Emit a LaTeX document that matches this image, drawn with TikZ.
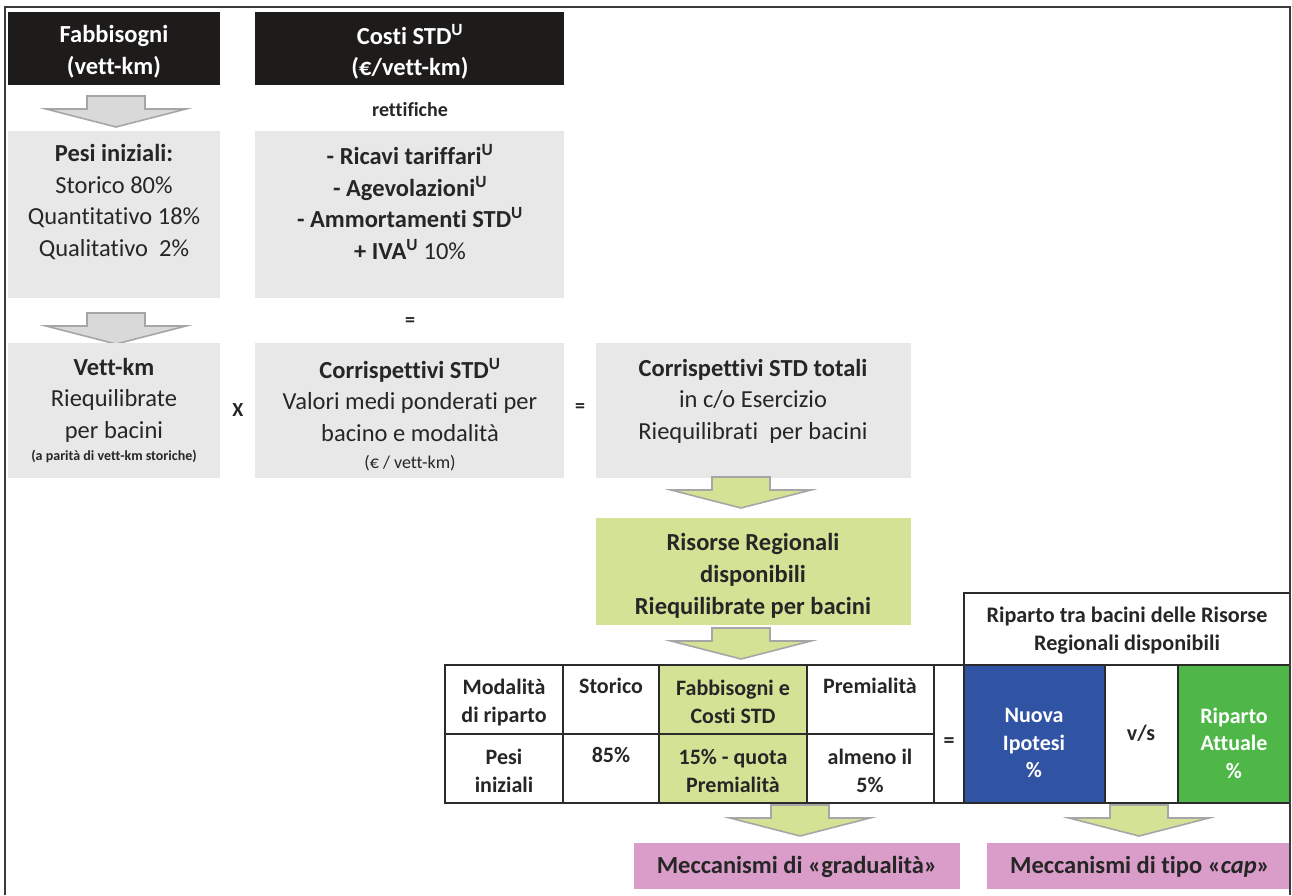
\documentclass[tikz,border=0pt]{standalone}
\usepackage{fontspec}
\setmainfont{Carlito}[Ligatures={TeX,NoCommon}]
\definecolor{hdr}{HTML}{1E1B1B}
\definecolor{boxgray}{HTML}{E8E8E8}
\definecolor{txtc}{HTML}{262626}
\definecolor{lgreen}{HTML}{D3E295}
\definecolor{ablue}{HTML}{3153A3}
\definecolor{agreen}{HTML}{4FB748}
\definecolor{apink}{HTML}{DA9CC8}
\definecolor{arrgray}{HTML}{D9D9D9}
\definecolor{arrline}{HTML}{A6A6A6}
\definecolor{framec}{HTML}{3A3A3A}
\definecolor{tline}{HTML}{2B2B2B}
\newcommand{\fs}[2]{\fontsize{#1}{#2}\selectfont}
\newcommand{\fmain}{\fs{24.5}{31.5}}
\newcommand{\ftab}{\fs{22}{28}}
\newcommand{\fsmall}{\fs{14}{16}}
\newcommand{\fatarr}[3]{%
  \draw[blockarrow, fill=#3] (#1-29,#2) -- (#1+29,#2) -- (#1+29,#2+13) -- (#1+70,#2+13)
    -- (#1,#2+31) -- (#1-70,#2+13) -- (#1-29,#2+13) -- cycle;}
\begin{document}
\begin{tikzpicture}[x=1pt,y=-1pt,
  box/.style={anchor=north west, inner sep=0, outer sep=0},
  hdrbox/.style={box, fill=hdr},
  graybox/.style={box, fill=boxgray},
  greenbox/.style={box, fill=lgreen},
  pinkbox/.style={box, fill=apink},
  cell/.style={box, draw=tline, line width=1.6pt},
  lbl/.style={align=center, inner sep=0, text=txtc},
  blockarrow/.style={draw=arrline, line width=1.6pt, line join=miter},
]
\useasboundingbox (0,0) rectangle (1292,895);

% ---------- left column boxes ----------
\node[hdrbox, minimum width=212pt, minimum height=73pt] (hdrA) at (8,12) {};
\node[hdrbox, minimum width=309pt, minimum height=73pt] (hdrB) at (255,12) {};
\node[lbl, text=white, font=\fmain\bfseries] (hdrAt) at (114,52) {Fabbisogni\\(vett-km)};
\node[lbl, text=white, font=\fmain\bfseries] (hdrBt) at (410,52) {Costi STD\textsuperscript{U}\\(€/vett-km)};

\fatarr{116}{96}{arrgray}
\node[lbl, font=\fs{20}{24}\bfseries] (rett) at (410,110) {rettifiche};

\node[graybox, minimum width=212pt, minimum height=167pt] (pesi) at (8,131) {};
\node[graybox, minimum width=309pt, minimum height=167pt] (rettbox) at (255,131) {};
\node[lbl, font=\fmain] (pesit) at (114,202) {\textbf{Pesi iniziali:}\\Storico 80\%\\Quantitativo 18\%\\Qualitativo\ \ 2\%};
\node[lbl, font=\fmain] (rettt) at (410,202) {\textbf{- Ricavi tariffari\textsuperscript{U}}\\\textbf{- Agevolazioni\textsuperscript{U}}\\\textbf{- Ammortamenti STD\textsuperscript{U}}\\\textbf{+ IVA\textsuperscript{U}} 10\%};

\fatarr{116}{313}{arrgray}
\node[lbl, font=\fs{20}{24}\bfseries] (eqA) at (410,322) {=};

\node[graybox, minimum width=212pt, minimum height=135pt] (vett) at (8,343) {};
\node[graybox, minimum width=309pt, minimum height=135pt] (corr) at (255,343) {};
\node[graybox, minimum width=315pt, minimum height=135pt] (tot) at (596,343) {};
\node[lbl, font=\fmain] (vettt) at (114,400) {\textbf{Vett-km}\\Riequilibrate\\per bacini};
\node[lbl, font=\fsmall\bfseries] (vetts) at (114,456) {(a parità di vett-km storiche)};
\node[lbl, font=\fs{20}{24}\bfseries] (times) at (238,410) {X};
\node[lbl, font=\fmain] (corrt) at (410,400) {\textbf{Corrispettivi STD\textsuperscript{U}}\\Valori medi ponderati per\\bacino e modalità};
\node[lbl, font=\fs{18}{22}] (corrs) at (410,463) {(€ / vett-km)};
\node[lbl, font=\fs{20}{24}\bfseries] (eqB) at (580,408) {=};
\node[lbl, font=\fmain] (tott) at (753,401) {\textbf{Corrispettivi STD totali}\\in c/o Esercizio\\Riequilibrati\ \ per bacini};

\fatarr{741}{477}{lgreen}
\node[greenbox, minimum width=315pt, minimum height=107pt] (ris) at (596,518) {};
\node[lbl, font=\fs{24.5}{32}\bfseries] (rist) at (753,576) {Risorse Regionali\\disponibili\\Riequilibrate per bacini};
\fatarr{741}{628}{lgreen}

% ---------- table ----------
\node[cell, minimum width=118pt, minimum height=69pt] (c11) at (445,665) {};
\node[cell, minimum width=96pt,  minimum height=69pt] (c12) at (563,665) {};
\node[cell, fill=lgreen, minimum width=148pt, minimum height=69pt] (c13) at (659,665) {};
\node[cell, minimum width=127pt, minimum height=69pt] (c14) at (807,665) {};
\node[cell, minimum width=118pt, minimum height=69pt] (c21) at (445,734) {};
\node[cell, minimum width=96pt,  minimum height=69pt] (c22) at (563,734) {};
\node[cell, fill=lgreen, minimum width=148pt, minimum height=69pt] (c23) at (659,734) {};
\node[cell, minimum width=127pt, minimum height=69pt] (c24) at (807,734) {};
\node[cell, minimum width=30pt, minimum height=138pt] (ceq) at (934,665) {};

\node[lbl, font=\ftab\bfseries] (c11t) at (504,702) {Modalità\\di riparto};
\node[lbl, font=\ftab\bfseries, anchor=north] (c12t) at (611,678) {Storico};
\node[lbl, font=\ftab\bfseries] (c13t) at (733,702) {Fabbisogni e\\Costi STD};
\node[lbl, font=\ftab\bfseries, anchor=north] (c14t) at (870,678) {Premialità};
\node[lbl, font=\ftab\bfseries] (c21t) at (504,771) {Pesi\\iniziali};
\node[lbl, font=\ftab\bfseries, anchor=north] (c22t) at (611,747) {85\%};
\node[lbl, font=\ftab\bfseries] (c23t) at (733,771) {15\% - quota\\Premialità};
\node[lbl, font=\ftab\bfseries] (c24t) at (870,771) {almeno il\\5\%};
\node[lbl, font=\ftab\bfseries] (ceqt) at (949,743) {=};

% ---------- right block ----------
\node[cell, minimum width=326pt, minimum height=72pt] (rh) at (964,593) {};
\node[lbl, font=\fs{22.2}{28}\bfseries] (rht) at (1127,631) {Riparto tra bacini delle Risorse\\Regionali disponibili};
\node[cell, fill=ablue, minimum width=141pt, minimum height=138pt] (nuova) at (964,665) {};
\node[cell, minimum width=73pt, minimum height=138pt] (vs) at (1105,665) {};
\node[cell, fill=agreen, minimum width=112pt, minimum height=138pt] (att) at (1178,665) {};
\node[lbl, text=white, font=\fs{22}{27.5}\bfseries] (nuovat) at (1034,743) {Nuova\\Ipotesi\\\%};
\node[lbl, font=\ftab\bfseries] (vst) at (1141,733) {v/s};
\node[lbl, text=white, font=\fs{22}{27.5}\bfseries] (attt) at (1234,743) {Riparto\\Attuale\\\%};

% ---------- bottom ----------
\fatarr{800}{805}{lgreen}
\fatarr{1139}{805}{lgreen}
\node[pinkbox, minimum width=326pt, minimum height=46pt] (gradu) at (634,843) {};
\node[pinkbox, minimum width=303pt, minimum height=46pt] (capb) at (987,843) {};
\node[lbl, font=\fs{24.5}{28}\bfseries] (gradut) at (797,867) {Meccanismi di «gradualità»};
\node[lbl, font=\fs{24.5}{28}\bfseries] (capt) at (1140,867) {Meccanismi di tipo «\textit{cap}»};

% ---------- frame ----------
\draw[framec, line width=2.5pt] (5,895) -- (5,7) -- (1290,7) -- (1290,895);
\end{tikzpicture}
\end{document}
